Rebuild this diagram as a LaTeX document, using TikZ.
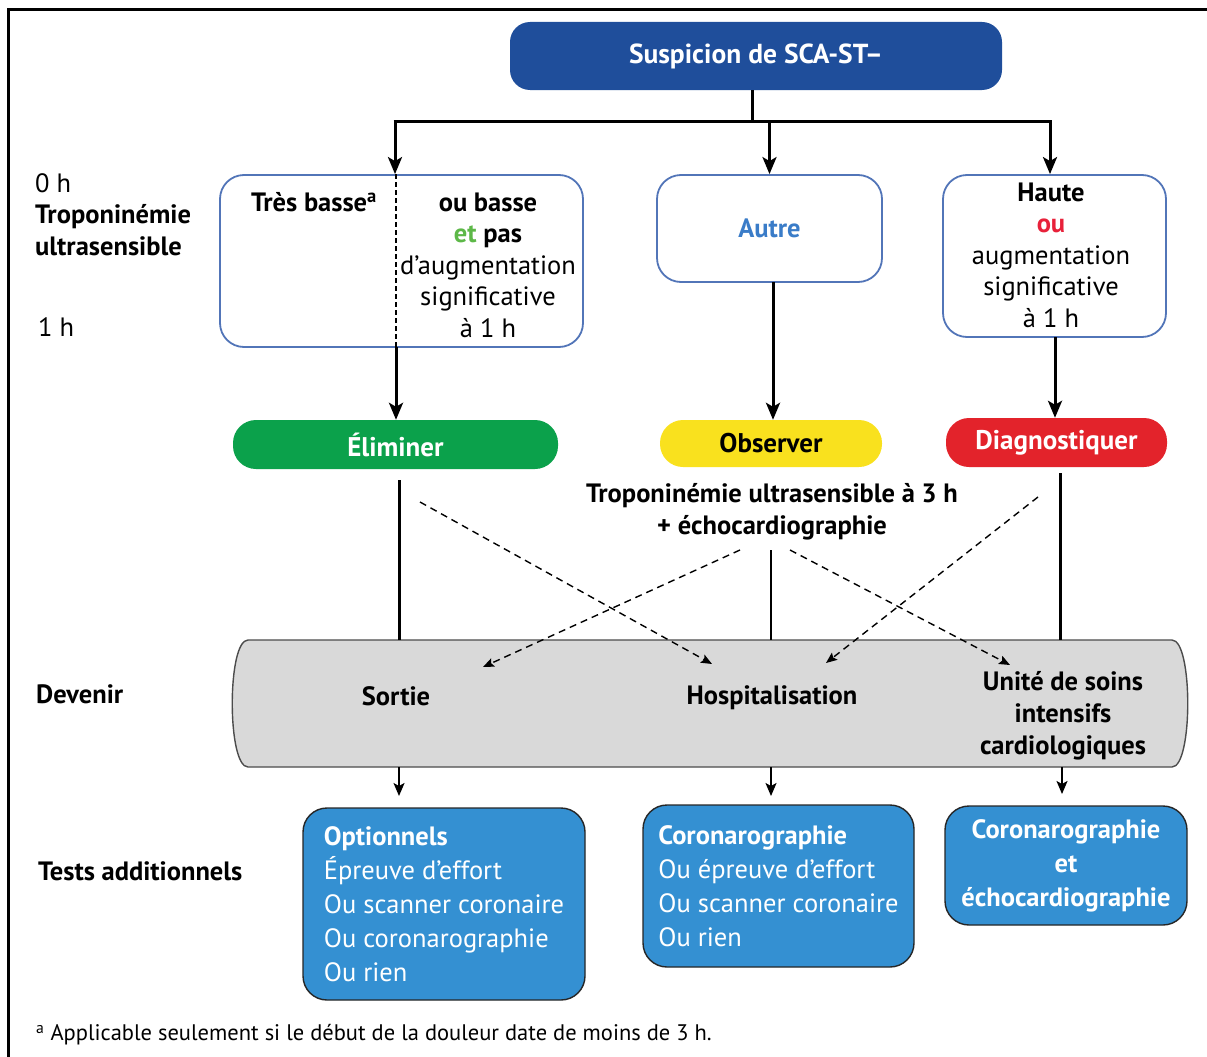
\documentclass[tikz,border=0pt]{standalone}
\usepackage{fontspec}
\setmainfont{PT Sans}
\usetikzlibrary{arrows.meta}
\definecolor{topblue}{HTML}{1F4E9B}
\definecolor{boxline}{HTML}{5275B8}
\definecolor{autreblue}{HTML}{3A7CC8}
\definecolor{elimgreen}{HTML}{0BA14B}
\definecolor{etgreen}{HTML}{5DB848}
\definecolor{obsyellow}{HTML}{F9E11E}
\definecolor{diagred}{HTML}{E3232B}
\definecolor{ored}{HTML}{E8213A}
\definecolor{bandgrey}{HTML}{D9D9D9}
\definecolor{testblue}{HTML}{3490D2}
\begin{document}
\begin{tikzpicture}[x=1pt,y=-1pt,
  txt/.style={font=\fontsize{26.5}{31.5}\selectfont, inner sep=0pt},
  btxt/.style={font=\fontsize{26.5}{31.5}\selectfont\bfseries, inner sep=0pt},
  tropbox/.style={draw=boxline, line width=1.8pt, rounded corners=24pt, fill=white, inner sep=0pt},
  pill/.style={rounded corners=23pt, inner sep=0pt, font=\fontsize{27}{30}\selectfont\bfseries},
  testbox/.style={draw=black!85, line width=1.4pt, fill=testblue, rounded corners=24pt, text=white, font=\fontsize{26.5}{34}\selectfont},
  conn/.style={line width=3pt, -{Stealth[length=17pt,width=14pt,inset=4pt]}},
  plain/.style={line width=3pt},
  thin/.style={line width=1.8pt},
  shortarr/.style={line width=1.8pt, -{Stealth[length=13pt,width=11pt,inset=3pt]}},
  dasharr/.style={line width=1.4pt, dash pattern=on 7pt off 5pt, -{Stealth[length=11pt,width=9pt,inset=2pt]}}
]
\useasboundingbox (0,0) rectangle (1207,1057);
% frame
\draw[line width=3pt] (8,1057) -- (8,10) -- (1207,10);

% top
\node[fill=topblue, rounded corners=20pt, minimum width=492pt, minimum height=68pt, inner sep=0pt, text=white, font=\fontsize{27.5}{30}\selectfont\bfseries] (top) at (756,56) {Suspicion de SCA-ST–};

% troponin boxes
\node[tropbox, minimum width=363pt, minimum height=172pt] (b1) at (401.5,261) {};
\node[tropbox, minimum width=225pt, minimum height=107pt, text=autreblue, font=\fontsize{26.5}{30}\selectfont\bfseries] (b2) at (769.5,228.5) {Autre};
\node[tropbox, minimum width=223pt, minimum height=162pt] (b3) at (1054.5,256) {};
\draw[line width=2pt, dash pattern=on 5pt off 3pt] (b1.north -| 396,0) -- (b1.south -| 396,0);
\node[btxt] (tb) at (314,202) {Très basse\textsuperscript{a}};
\node[txt, align=center] (ob) at (488,265) {\textbf{ou basse}\\\textbf{\textcolor{etgreen}{et} pas}\\d'augmentation\\significative\\à 1 h};
\node[txt, align=center] (ht) at (1051,255) {\textbf{Haute}\\\textbf{\textcolor{ored}{ou}}\\augmentation\\significative\\à 1 h};

% fan
\coordinate (j0) at (752,121);
\coordinate (jl) at (395,121);
\coordinate (jr) at (1050,121);
\draw[plain] (top.south -| j0) -- (j0);
\draw[plain] ([xshift=-1.5pt]jl) -- ([xshift=1.5pt]jr);
\draw[conn] (jl) -- (jl |- b1.north);
\draw[conn] (b2.north |- j0) -- (b2.north);
\draw[conn] (jr) -- (jr |- b3.north);

% left labels
\node[txt, anchor=west, align=left] (zero) at (35,183) {0 h};
\node[btxt, anchor=west, align=left] (trop) at (35,230) {Troponinémie\\ultrasensible};
\node[txt, anchor=west] (one) at (38,327) {1 h};
\node[btxt, anchor=west] (dev) at (36,694) {Devenir};
\node[btxt, anchor=west] (tests) at (38,871) {Tests additionnels};

% pills
\node[pill, fill=elimgreen, text=white, minimum width=325pt, minimum height=49pt] (elim) at (395.5,444.5) {Éliminer};
\node[pill, fill=obsyellow, text=black, minimum width=222pt, minimum height=47pt] (obs) at (771,443.5) {Observer};
\node[pill, fill=diagred, text=white, minimum width=221pt, minimum height=49pt] (diag) at (1056.5,442.5) {Diagnostiquer};
\draw[conn] (396,347) -- (elim.north -| 396,0);
\draw[conn] (773,282) -- (obs.north -| 773,0);
\draw[conn] (1055,337) -- (diag.north -| 1055,0);

\node[btxt, align=center] (obs3) at (772,512) {Troponinémie ultrasensible à 3 h\\+ échocardiographie};

% band
\draw[fill=bandgrey, draw=black!70, line width=1.4pt]
  (248,640) -- (1172,640) .. controls (1193,640) and (1193,767) .. (1172,767)
  -- (248,767) .. controls (227,767) and (227,640) .. (248,640) -- cycle;
\node[btxt] (sortie) at (396,696) {Sortie};
\node[btxt] (hosp) at (772,698) {Hospitalisation};
\node[btxt, align=center, font=\fontsize{26.5}{32}\selectfont\bfseries] (usic) at (1063,716) {Unité de soins\\intensifs\\cardiologiques};

% solid lines to band
\coordinate (e1) at (399,480);
\coordinate (e2) at (771,550);
\coordinate (e3) at (1060,473);
\draw[plain] (e1) -- (399,640);
\draw[thin] (e2) -- (771,640);
\draw[plain] (e3) -- (1060,640);

% dashed arrows
\coordinate (d1s) at (420,502); \coordinate (d1e) at (712,664);
\coordinate (d2s) at (740,550); \coordinate (d2e) at (483,667);
\coordinate (d3s) at (790,550); \coordinate (d3e) at (1010,665);
\coordinate (d4s) at (1038,497); \coordinate (d4e) at (826,663);
\draw[dasharr] (d1s) -- (d1e);
\draw[dasharr] (d2s) -- (d2e);
\draw[dasharr] (d3s) -- (d3e);
\draw[dasharr] (d4s) -- (d4e);

% test boxes
\node[testbox, minimum width=282pt, minimum height=192pt, inner sep=0pt, align=left] (ta) at (444,904)
  {\textbf{Optionnels}\\Épreuve d'effort\\Ou scanner coronaire\\Ou coronarographie\\Ou rien};
\node[testbox, minimum width=271pt, minimum height=162pt, inner sep=0pt, align=left] (tb2) at (778.5,886)
  {\textbf{Coronarographie}\\Ou épreuve d'effort\\Ou scanner coronaire\\Ou rien};
\node[testbox, minimum width=242pt, minimum height=119pt, inner sep=0pt, align=center, font=\fontsize{26.5}{34}\selectfont\bfseries] (tc) at (1066,865.5)
  {Coronarographie\\et\\échocardiographie};
\draw[shortarr] (399,767) -- (399,796);
\draw[shortarr] (771,767) -- (771,796);
\draw[shortarr] (1062,767) -- (1062,794);

% footnote
\node[anchor=west, inner sep=0pt, font=\fontsize{22.5}{26}\selectfont] (fn) at (36,1035) {\textsuperscript{a} Applicable seulement si le début de la douleur date de moins de 3 h.};
\end{tikzpicture}
\end{document}
